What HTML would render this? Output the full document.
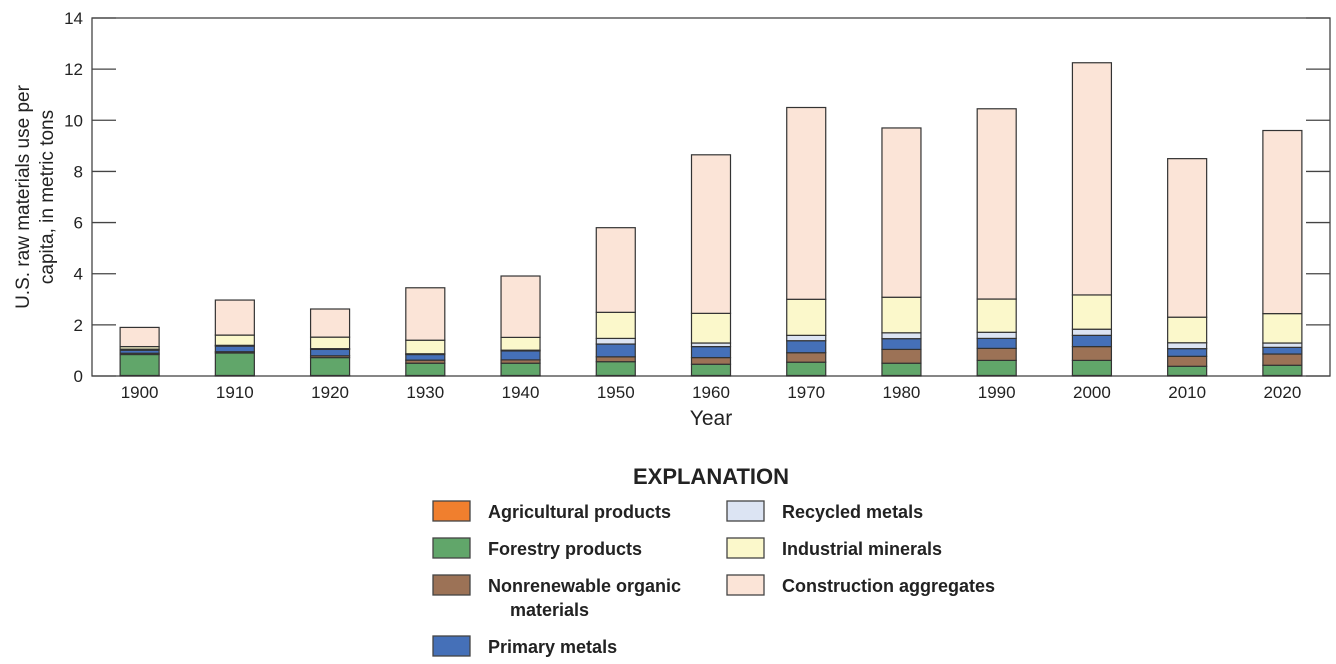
<!DOCTYPE html>
<html><head><meta charset="utf-8"><style>
html,body{margin:0;padding:0;background:#fff;}
svg{display:block;font-family:"Liberation Sans",Arial,sans-serif;}
</style></head><body>
<svg id="chart" width="1336" height="664" viewBox="0 0 1336 664">
<g id="plot"></g>
<g id="legend"></g>
</svg>
<script>
const years = ["1900","1910","1920","1930","1940","1950","1960","1970","1980","1990","2000","2010","2020"];
const seriesNames = ["Agricultural products","Forestry products","Nonrenewable organic materials","Primary metals","Recycled metals","Industrial minerals","Construction aggregates"];
const agricultural = [0.02,0.02,0.02,0.02,0.02,0.02,0.02,0.02,0.02,0.02,0.02,0.02,0.02];
const forestry = [0.82,0.88,0.70,0.48,0.48,0.54,0.44,0.52,0.48,0.59,0.59,0.36,0.40];
const nonrenewable = [0.05,0.05,0.07,0.12,0.13,0.19,0.26,0.37,0.54,0.47,0.54,0.39,0.44];
const primaryMetals = [0.12,0.22,0.25,0.22,0.35,0.50,0.43,0.47,0.42,0.39,0.44,0.30,0.26];
const recycledMetals = [0.04,0.03,0.03,0.03,0.03,0.22,0.14,0.21,0.23,0.24,0.24,0.23,0.17];
const industrialMinerals = [0.10,0.40,0.45,0.53,0.50,1.02,1.16,1.41,1.39,1.30,1.34,1.00,1.15];
const construction = [0.75,1.37,1.10,2.05,2.40,3.31,6.20,7.50,6.62,7.44,9.08,6.20,7.16];
const yTicks = [0,2,4,6,8,10,12,14];
const colors = ["#f07f2e","#61a66a","#9c7256","#4570b8","#dce4f3","#fbf8cb","#fbe4d7"];
const series = [agricultural,forestry,nonrenewable,primaryMetals,recycledMetals,industrialMinerals,construction];
const segNames = ["agricultural","forestry","nonrenewable","primary-metals","recycled-metals","industrial-minerals","construction"];

const NS="http://www.w3.org/2000/svg";
const L=92,R=1330,T=18,B=376,YMAX=14;
const y=v=>B-(v/YMAX)*(B-T);
const step=(R-L)/years.length;
const xc=i=>L+(i+0.5)*step;
const BW=39;
function mk(tag,attrs,parent){const e=document.createElementNS(NS,tag);for(const k in attrs)e.setAttribute(k,attrs[k]);parent.appendChild(e);return e;}
const plot=document.getElementById('plot');
// frame
const frame=mk('rect',{x:L,y:T,width:R-L,height:B-T,fill:'none',stroke:'#444','stroke-width':1.3},plot);


yTicks.forEach(t=>{
  const tl=mk('line',{x1:L,x2:L+24,y1:y(t),y2:y(t),stroke:'#444','stroke-width':1.3},plot);
  
  
  const tr=mk('line',{x1:R-24,x2:R,y1:y(t),y2:y(t),stroke:'#444','stroke-width':1.3},plot);
  
  
  const tx=mk('text',{x:L-9,y:y(t)+6,'text-anchor':'end','font-size':17,fill:'#222'},plot);
  tx.textContent=t;
  
  
});
years.forEach((yr,i)=>{
  let cum=0;
  series.forEach((s,k)=>{
    const v=s[i];
    const r=mk('rect',{x:xc(i)-BW/2,y:y(cum+v),width:BW,height:y(cum)-y(cum+v),fill:colors[k],stroke:'#333','stroke-width':1.2},plot);
    
    
    cum+=v;
  });
  const tx=mk('text',{x:xc(i),y:B+22,'text-anchor':'middle','font-size':17,fill:'#222'},plot);
  tx.textContent=yr;
  
  
});
const xt=mk('text',{x:(L+R)/2,y:425,'text-anchor':'middle','font-size':21,fill:'#222'},plot);
xt.textContent='Year';


const yt=mk('text',{transform:'translate(29,197) rotate(-90)','text-anchor':'middle','font-size':19,fill:'#222'},plot);


const t1=mk('tspan',{x:0,dy:0},yt);t1.textContent='U.S. raw materials use per';
const t2=mk('tspan',{x:0,dy:24},yt);t2.textContent='capita, in metric tons';

const lg=document.getElementById('legend');
const lt=mk('text',{x:711,y:484,'text-anchor':'middle','font-size':22,'font-weight':'bold',fill:'#222'},lg);
lt.textContent='EXPLANATION';


const pos=[[433,501],[433,538],[433,575],[433,636],[727,501],[727,538],[727,575]];
const labelOrder=[0,1,2,3,4,5,6];
labelOrder.forEach((k,j)=>{
  const [px,py]=pos[j];
  const sw=mk('rect',{x:px,y:py,width:37,height:20,fill:colors[k],stroke:'#444','stroke-width':1.3},lg);
  
  
  const t=mk('text',{x:px+55,y:py+17,'font-size':18,'font-weight':'bold',fill:'#222'},lg);
  
  
  if(k===2){
    const a=mk('tspan',{x:px+55,dy:0},t);a.textContent='Nonrenewable organic';
    const b=mk('tspan',{x:px+77,dy:24},t);b.textContent='materials';
  } else t.textContent=seriesNames[k];
});
</script>
</body></html>
